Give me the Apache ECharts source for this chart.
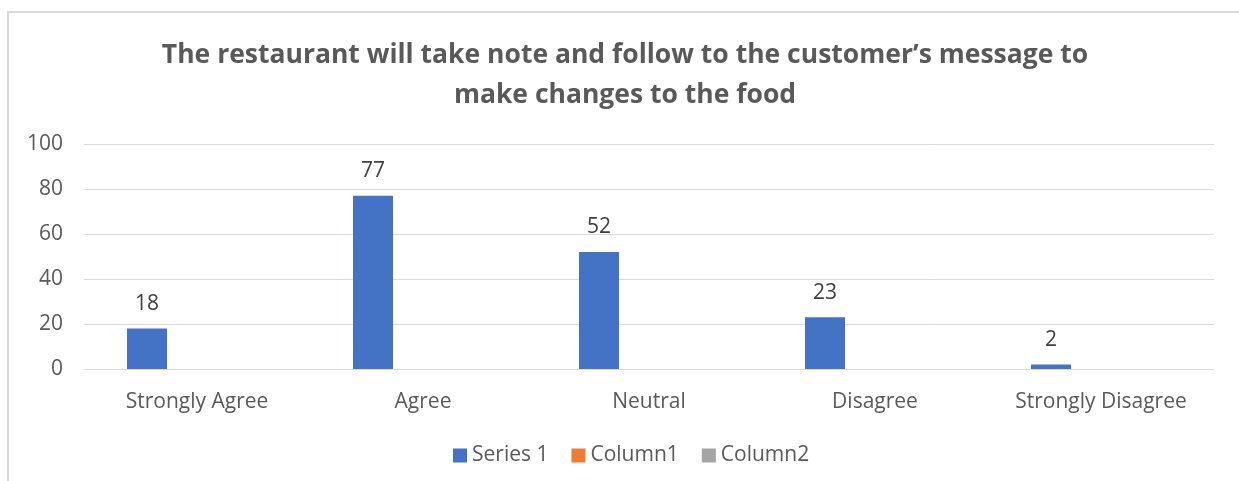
<!DOCTYPE html>
<html>
<head>
<meta charset="utf-8">
<style>
  html, body { margin: 0; padding: 0; background: #ffffff; }
  #chart { width: 1239px; height: 481px; }
</style>
<script src="https://cdn.jsdelivr.net/npm/echarts@6/dist/echarts.min.js"></script>
</head>
<body>
<div id="chart"></div>
<script>
// Survey responses
const categories = ['Strongly Agree', 'Agree', 'Neutral', 'Disagree', 'Strongly Disagree'];
const series1 = [18, 77, 52, 23, 2];
const column1 = [null, null, null, null, null];
const column2 = [null, null, null, null, null];
const yTicks = { min: 0, max: 100, interval: 20 };

const FONT = 'Open Sans';
const TEXT = '#595959';
const LABEL_SIZE = 21;

const chart = echarts.init(document.getElementById('chart'));
chart.setOption({
  animation: false,
  textStyle: { fontFamily: FONT },
  title: {
    text: 'The restaurant will take note and follow to the customer\u2019s message to\nmake changes to the food',
    left: 620,
    top: 30,
    textAlign: 'center',
    textStyle: { fontFamily: FONT, fontSize: 26.5, fontWeight: 'bold', color: TEXT, lineHeight: 40 }
  },
  graphic: [{
    type: 'rect',
    shape: { x: 8, y: 12, width: 1300, height: 600 },
    style: { fill: 'none', stroke: '#d9d9d9', lineWidth: 2 },
    silent: true
  }],
  legend: {
    left: 448,
    top: 440,
    itemWidth: 14,
    itemHeight: 14,
    itemGap: 23,
    icon: 'rect',
    textStyle: { fontFamily: FONT, fontSize: LABEL_SIZE, color: TEXT },
    data: ['Series 1', 'Column1', 'Column2']
  },
  grid: { left: 84, right: 25, top: 144, bottom: 112, containLabel: false },
  xAxis: {
    type: 'category',
    data: categories,
    axisLine: { lineStyle: { color: '#d9d9d9', width: 1 } },
    axisTick: { show: false },
    axisLabel: { fontFamily: FONT, fontSize: LABEL_SIZE, color: TEXT, margin: 23 }
  },
  yAxis: {
    type: 'value',
    min: yTicks.min,
    max: yTicks.max,
    interval: yTicks.interval,
    axisLine: { show: false },
    axisTick: { show: false },
    splitLine: { lineStyle: { color: '#d9d9d9', width: 1 } },
    axisLabel: { fontFamily: FONT, fontSize: LABEL_SIZE, color: TEXT, margin: 21 }
  },
  series: [
    {
      name: 'Series 1', type: 'bar', data: series1,
      barWidth: 40, barGap: '25%',
      itemStyle: { color: '#4472C4' },
      label: { show: true, position: 'top', distance: 14, fontFamily: FONT, fontSize: LABEL_SIZE, color: '#404040' }
    },
    { name: 'Column1', type: 'bar', data: column1, barWidth: 40, barGap: '25%', itemStyle: { color: '#ED7D31' } },
    { name: 'Column2', type: 'bar', data: column2, barWidth: 40, barGap: '25%', itemStyle: { color: '#A5A5A5' } }
  ]
});
</script>
</body>
</html>
